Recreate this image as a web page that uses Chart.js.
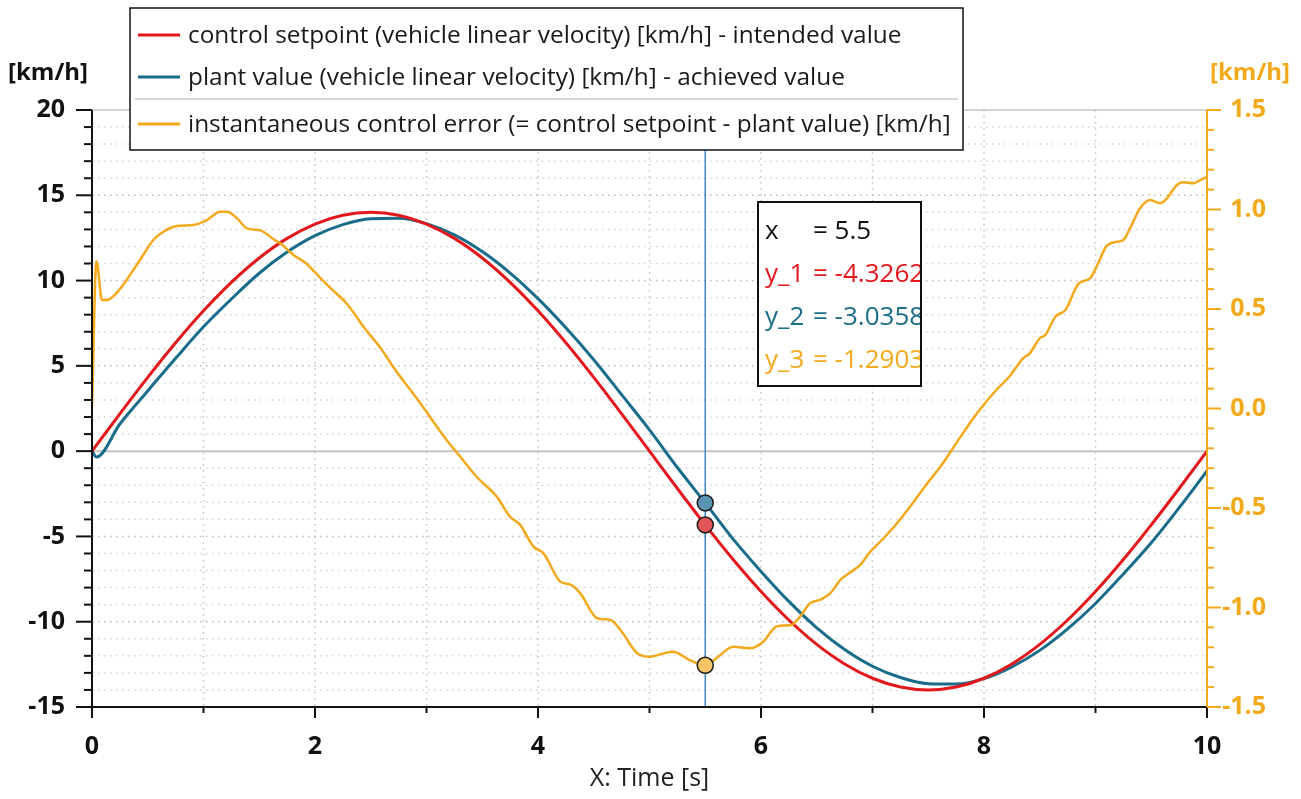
<!DOCTYPE html>
<html>
<head>
<meta charset="utf-8">
<title>Velocity control</title>
<script src="https://cdn.jsdelivr.net/npm/chart.js@4.4.1/dist/chart.umd.min.js"></script>
<style>
  html, body { margin: 0; padding: 0; background: #fff; }
  #wrap { width: 1301px; height: 799px; position: relative; }
</style>
</head>
<body>
<div id="wrap"><canvas id="velocityChart"></canvas></div>
<script>
// series names (legend)
const seriesLabels = [
  "control setpoint (vehicle linear velocity) [km/h] - intended value",
  "plant value (vehicle linear velocity) [km/h] - achieved value",
  "instantaneous control error (= control setpoint - plant value) [km/h]"
];

// time base for setpoint / plant value [s]
const timeGrid = [0, 0.04, 0.25, 0.5, 0.75, 1, 1.25, 1.5, 1.75, 2, 2.25, 2.5, 2.75, 3, 3.25, 3.5, 3.75, 4,
  4.25, 4.5, 4.75, 5, 5.25, 5.5, 5.75, 6, 6.25, 6.5, 6.75, 7, 7.25, 7.5, 7.75, 8, 8.25, 8.5, 8.75, 9,
  9.25, 9.5, 9.75, 10];

const setpoint = [0, 0.352, 2.19, 4.326, 6.356, 8.229, 9.899, 11.326, 12.474, 13.315, 13.828, 14, 13.828,
  13.315, 12.474, 11.326, 9.899, 8.229, 6.356, 4.326, 2.19, 0, -2.19, -4.326, -6.356, -8.229, -9.899,
  -11.326, -12.474, -13.315, -13.828, -14, -13.828, -13.315, -12.474, -11.326, -9.899, -8.229, -6.356,
  -4.326, -2.19, 0];

const plantValue = [0, -0.35, 1.59, 3.53, 5.44, 7.29, 8.92, 10.43, 11.67, 12.63, 13.28, 13.63, 13.66,
  13.34, 12.68, 11.7, 10.44, 8.94, 7.23, 5.36, 3.31, 1.25, -0.96, -3.036, -5.16, -7.05, -8.81, -10.36,
  -11.63, -12.61, -13.27, -13.63, -13.65, -13.34, -12.65, -11.68, -10.42, -8.93, -7.2, -5.37, -3.32, -1.165];

// control error, read on its own time base (right axis)
const errorTime = [0, 0.04, 0.09, 0.13, 0.22, 0.31, 0.43, 0.55, 0.64, 0.76, 0.91, 1.03, 1.15, 1.21, 1.3,
  1.39, 1.51, 1.63, 1.7, 1.81, 1.92, 1.99, 2.13, 2.28, 2.45, 2.58, 2.7, 2.94, 3.18, 3.3, 3.45, 3.63, 3.75,
  3.84, 3.96, 4.05, 4.2, 4.3, 4.38, 4.53, 4.65, 4.74, 4.89, 5, 5.21, 5.36, 5.5, 5.6, 5.75, 5.9, 6.02,
  6.14, 6.27, 6.35, 6.44, 6.54, 6.62, 6.71, 6.81, 6.89, 6.98, 7.1, 7.22, 7.36, 7.48, 7.61, 7.71, 7.81,
  7.96, 8.11, 8.23, 8.35, 8.41, 8.5, 8.55, 8.64, 8.73, 8.85, 8.95, 9.01, 9.1, 9.19, 9.25, 9.31, 9.4,
  9.49, 9.58, 9.64, 9.73, 9.79, 9.88, 9.94, 10];

const controlError = [0.01, 0.74, 0.545, 0.545, 0.58, 0.646, 0.746, 0.847, 0.888, 0.917, 0.922, 0.947,
  0.989, 0.989, 0.956, 0.905, 0.895, 0.85, 0.825, 0.77, 0.73, 0.69, 0.61, 0.53, 0.4, 0.31, 0.21, 0.03,
  -0.158, -0.24, -0.343, -0.443, -0.544, -0.585, -0.694, -0.728, -0.87, -0.887, -0.929, -1.054, -1.063,
  -1.113, -1.23, -1.247, -1.222, -1.264, -1.29, -1.255, -1.197, -1.205, -1.172, -1.095, -1.088, -1.046,
  -0.979, -0.959, -0.929, -0.862, -0.82, -0.786, -0.72, -0.652, -0.577, -0.476, -0.384, -0.292, -0.209,
  -0.125, -0.008, 0.093, 0.162, 0.252, 0.277, 0.353, 0.369, 0.461, 0.495, 0.629, 0.654, 0.713, 0.817,
  0.838, 0.847, 0.906, 1.006, 1.048, 1.031, 1.056, 1.123, 1.137, 1.132, 1.148, 1.165];

// cursor readout
const cursorX = 5.5;
const cursorValues = [-4.3262, -3.0358, -1.2903];

// tick labels
const xTickLabels = [0, 2, 4, 6, 8, 10];
const leftTickLabels = [-15, -10, -5, 0, 5, 10, 15, 20];
const rightTickLabels = [-1.5, -1.0, -0.5, 0.0, 0.5, 1.0, 1.5];

const RED = "#e3181d";
const BLUE = "#1a6d8a";
const ORANGE = "#f3a91c";
const FONT = '"Open Sans", "Noto Sans", sans-serif';

const toPoints = (xs, ys) => xs.map((t, i) => ({ x: t, y: ys[i] }));

function hline(ctx, x0, x1, y) { ctx.beginPath(); ctx.moveTo(x0, y); ctx.lineTo(x1, y); ctx.stroke(); }
function vline(ctx, x, y0, y1) { ctx.beginPath(); ctx.moveTo(x, y0); ctx.lineTo(x, y1); ctx.stroke(); }
const isLabelled = (list, v) => list.some(l => Math.abs(l - v) < 1e-6);

// grid, axes, ticks, legend box and readout are drawn here
const framePlugin = {
  id: "frame",
  beforeDatasetsDraw(chart) {
    const { ctx, chartArea: a, scales: { x, y } } = chart;
    ctx.save();
    ctx.lineWidth = 1.5;
    ctx.setLineDash([1.5, 4.5]);
    for (let t = x.min + 1; t < x.max; t++) {
      ctx.strokeStyle = "#c2c2c2";
      vline(ctx, x.getPixelForValue(t), a.top, a.bottom);
    }
    for (let v = y.min + 1; v < y.max; v++) {
      if (v === 0) continue;
      ctx.strokeStyle = v % 5 === 0 ? "#b9b9b9" : "#d6d6d6";
      hline(ctx, a.left, a.right, y.getPixelForValue(v));
    }
    ctx.setLineDash([]);
    ctx.strokeStyle = "#c4c4c4";
    ctx.lineWidth = 2;
    hline(ctx, a.left, a.right, y.getPixelForValue(0));
    ctx.lineWidth = 1.5;
    hline(ctx, a.left, a.right, a.top);
    // cursor
    ctx.strokeStyle = "#3f88c9";
    ctx.lineWidth = 1.5;
    vline(ctx, x.getPixelForValue(cursorX), a.top, a.bottom);
    ctx.restore();
  },
  afterDatasetsDraw(chart) {
    const { ctx, chartArea: a, scales: { x, y, y2 } } = chart;
    ctx.save();
    // left axis
    ctx.strokeStyle = "#111";
    ctx.lineWidth = 2;
    vline(ctx, a.left, a.top, a.bottom);
    for (let v = y.min; v <= y.max; v++) {
      const len = v % 5 === 0 ? 16 : 8;
      hline(ctx, a.left - len, a.left, y.getPixelForValue(v));
    }
    // bottom axis
    hline(ctx, a.left, a.right, a.bottom);
    for (let t = x.min; t <= x.max; t++) {
      const len = t % 2 === 0 ? 11 : 6;
      vline(ctx, x.getPixelForValue(t), a.bottom, a.bottom + len);
    }
    // right axis
    ctx.strokeStyle = ORANGE;
    vline(ctx, a.right, a.top, a.bottom);
    for (let k = -15; k <= 15; k++) {
      const v = k / 10;
      const len = k % 5 === 0 ? 14 : 7;
      hline(ctx, a.right, a.right + len, y2.getPixelForValue(v));
    }
    ctx.restore();
  },
  afterDraw(chart) {
    const { ctx } = chart;
    ctx.save();
    // unit titles
    ctx.font = "bold 24px " + FONT;
    ctx.textBaseline = "middle";
    ctx.textAlign = "center";
    ctx.fillStyle = "#111";
    ctx.fillText("[km/h]", 48, 73);
    ctx.fillStyle = ORANGE;
    ctx.fillText("[km/h]", 1250, 73);

    // legend
    const lx = 130, ly = 8, lw = 833, lh = 142;
    ctx.fillStyle = "#fff";
    ctx.fillRect(lx, ly, lw, lh);
    ctx.strokeStyle = "#111";
    ctx.lineWidth = 1.5;
    ctx.strokeRect(lx, ly, lw, lh);
    const rows = [35, 77, 124];
    ctx.textAlign = "left";
    ctx.font = "24.4px " + FONT;
    chart.data.datasets.slice(0, 3).forEach((ds, i) => {
      ctx.strokeStyle = ds.borderColor;
      ctx.lineWidth = 3;
      hline(ctx, lx + 8, lx + 50, rows[i]);
      ctx.fillStyle = "#1a1a1a";
      ctx.fillText(ds.label, lx + 58, rows[i] + 1);
    });
    ctx.strokeStyle = "#b0b0b0";
    ctx.lineWidth = 1.2;
    hline(ctx, lx + 5, lx + lw - 5, 99);

    // readout box
    const bx = 758, by = 202, bw = 163, bh = 184;
    ctx.fillStyle = "#fff";
    ctx.fillRect(bx, by, bw, bh);
    ctx.save();
    ctx.beginPath();
    ctx.rect(bx, by, bw, bh);
    ctx.clip();
    const lines = [
      ["x", "= " + cursorX, "#111"],
      ["y_1", "= " + cursorValues[0].toFixed(4), RED],
      ["y_2", "= " + cursorValues[1].toFixed(4), BLUE],
      ["y_3", "= " + cursorValues[2].toFixed(4), ORANGE]
    ];
    ctx.font = "26px " + FONT;
    lines.forEach((ln, i) => {
      const ty = 232 + i * 43;
      ctx.fillStyle = ln[2];
      ctx.fillText(ln[0], bx + 7, ty);
      ctx.fillText(ln[1], bx + 55, ty);
    });
    ctx.restore();
    ctx.strokeStyle = "#111";
    ctx.lineWidth = 2;
    ctx.strokeRect(bx, by, bw, bh);
    ctx.restore();
  }
};

const markerStyle = (fill) => ({
  type: "scatter",
  showLine: false,
  pointRadius: 8,
  pointBackgroundColor: fill,
  pointBorderColor: "#1b1b1b",
  pointBorderWidth: 1.5,
  order: 0
});

const ctx = document.getElementById("velocityChart").getContext("2d");

new Chart(ctx, {
  type: "line",
  data: {
    datasets: [
      {
        label: seriesLabels[0],
        data: toPoints(timeGrid, setpoint),
        borderColor: RED,
        borderWidth: 3,
        pointRadius: 0,
        cubicInterpolationMode: "monotone",
        yAxisID: "y",
        order: 2
      },
      {
        label: seriesLabels[1],
        data: toPoints(timeGrid, plantValue),
        borderColor: BLUE,
        borderWidth: 3,
        pointRadius: 0,
        cubicInterpolationMode: "monotone",
        yAxisID: "y",
        order: 3
      },
      {
        label: seriesLabels[2],
        data: toPoints(errorTime, controlError),
        borderColor: ORANGE,
        borderWidth: 2.5,
        pointRadius: 0,
        cubicInterpolationMode: "monotone",
        yAxisID: "y2",
        order: 1
      },
      { ...markerStyle("#e35557"), data: [{ x: cursorX, y: cursorValues[0] }], yAxisID: "y" },
      { ...markerStyle("#5b94b3"), data: [{ x: cursorX, y: cursorValues[1] }], yAxisID: "y" },
      { ...markerStyle("#f8c567"), data: [{ x: cursorX, y: cursorValues[2] }], yAxisID: "y2" }
    ]
  },
  options: {
    responsive: true,
    maintainAspectRatio: false,
    animation: false,
    layout: { padding: { top: 110, left: 0, right: 35, bottom: 0 } },
    plugins: {
      legend: { display: false },
      tooltip: { enabled: false }
    },
    scales: {
      x: {
        type: "linear",
        position: "bottom",
        min: 0,
        max: 10,
        grid: { display: false, drawTicks: false },
        border: { display: false },
        ticks: {
          stepSize: 1,
          autoSkip: false,
          maxRotation: 0,
          padding: 25,
          color: "#111",
          font: { family: FONT, size: 25, weight: "bold" },
          callback: v => (isLabelled(xTickLabels, v) ? String(v) : "")
        },
        title: {
          display: true,
          text: "X: Time [s]",
          color: "#222",
          font: { family: FONT, size: 25 },
          padding: { top: 0, bottom: 5 }
        },
        afterFit(s) { s.height = 92; }
      },
      y: {
        position: "left",
        min: -15,
        max: 20,
        grid: { display: false, drawTicks: false },
        border: { display: false },
        ticks: {
          stepSize: 1,
          autoSkip: false,
          padding: 27,
          color: "#111",
          font: { family: FONT, size: 25, weight: "bold" },
          callback: v => (isLabelled(leftTickLabels, v) ? String(v) : "")
        },
        afterFit(s) { s.width = 92; }
      },
      y2: {
        position: "right",
        min: -1.5,
        max: 1.5,
        grid: { display: false, drawTicks: false },
        border: { display: false },
        ticks: {
          stepSize: 0.5,
          autoSkip: false,
          padding: 12,
          crossAlign: "far",
          color: ORANGE,
          font: { family: FONT, size: 25, weight: "bold" },
          callback: v => (isLabelled(rightTickLabels, v) ? v.toFixed(1) : "")
        },
        afterFit(s) { s.width = 59; }
      }
    }
  },
  plugins: [framePlugin]
});
</script>
</body>
</html>
